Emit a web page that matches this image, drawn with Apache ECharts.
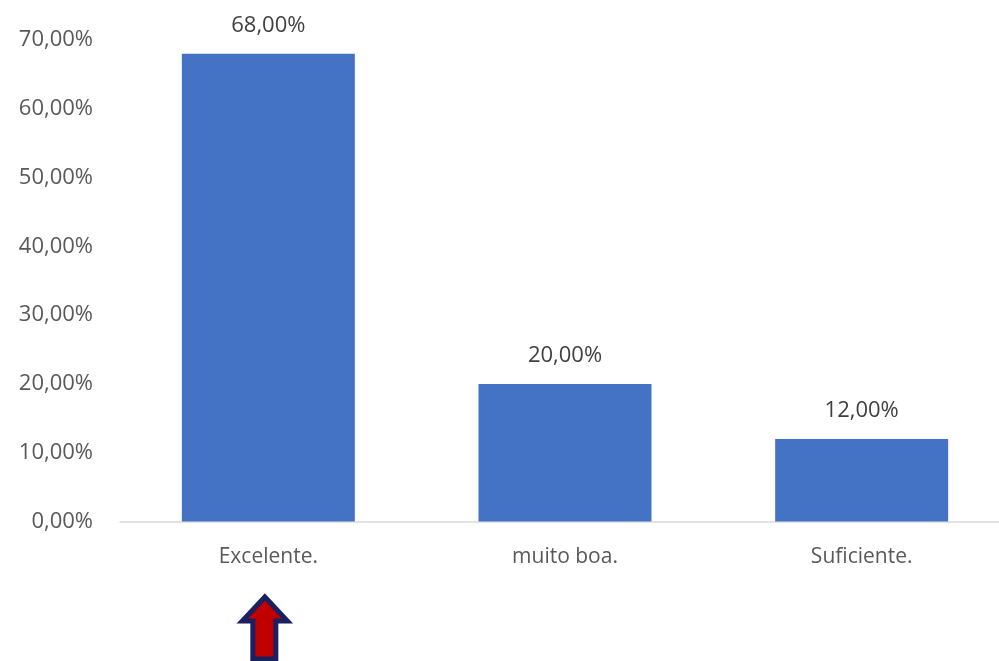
<!DOCTYPE html>
<html>
<head>
<meta charset="utf-8">
<script src="https://cdn.jsdelivr.net/npm/echarts@6/dist/echarts.min.js"></script>
<style>html,body{margin:0;padding:0;background:#fff;overflow:hidden;width:999px;height:661px}#c{width:1010px;height:661px}</style>
</head>
<body>
<div id="c"></div>
<script>
var categories = ['Excelente.', 'muito boa.', 'Suficiente.'];
var values = [68, 20, 12];
var yTicks = [0, 10, 20, 30, 40, 50, 60, 70];

function pct(v) { return v.toFixed(2).replace('.', ',') + '%'; }

var chart = echarts.init(document.getElementById('c'), null, {renderer: 'canvas'});
var font = '"Open Sans", "Noto Sans", sans-serif';
chart.setOption({
  animation: false,
  backgroundColor: '#ffffff',
  grid: {left: 120, right: 0, top: 40, bottom: 139.5, containLabel: false},
  xAxis: {
    type: 'category',
    data: categories,
    axisLine: {lineStyle: {color: '#D9D9D9', width: 1.5}},
    axisTick: {show: false},
    axisLabel: {color: '#595959', fontSize: 21, fontFamily: font, margin: 25}
  },
  yAxis: {
    type: 'value',
    min: yTicks[0],
    max: yTicks[yTicks.length - 1],
    interval: 10,
    splitLine: {show: false},
    axisLine: {show: false},
    axisTick: {show: false},
    axisLabel: {color: '#595959', fontSize: 22, fontFamily: font, margin: 27, formatter: pct}
  },
  series: [{
    type: 'bar',
    data: values,
    barWidth: 173,
    itemStyle: {color: '#4472C4'},
    label: {
      show: true,
      position: 'top',
      distance: 17,
      color: '#404040',
      fontSize: 22,
      fontFamily: font,
      formatter: function (p) { return pct(p.value); }
    }
  }]
});

// Arrow annotation under the first category
var cx = chart.convertToPixel({xAxisIndex: 0}, categories[0]);
var pts = [
  [0, 597], [-22.5, 621], [-12, 621], [-12, 659], [11, 659], [11, 621], [22.5, 621]
].map(function (p) { return [cx - 3.5 + p[0], p[1]]; });
chart.setOption({
  graphic: [{
    type: 'polygon',
    shape: {points: pts},
    style: {fill: '#C00000', stroke: '#1B2060', lineWidth: 5, lineJoin: 'miter'}
  }]
});
</script>
</body>
</html>
